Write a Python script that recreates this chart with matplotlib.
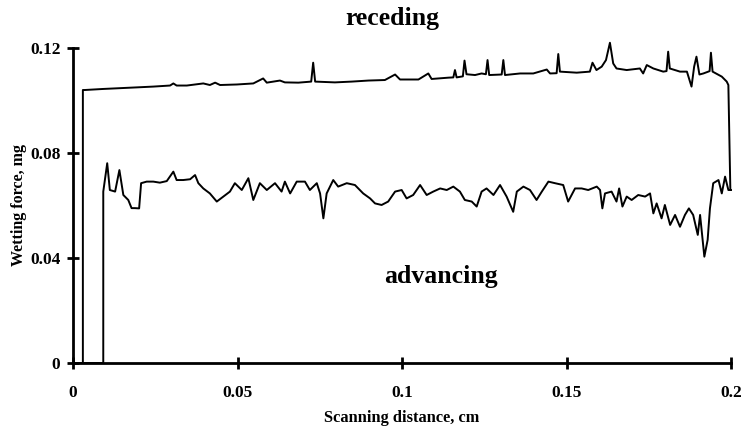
import matplotlib
matplotlib.use("Agg")
import matplotlib.pyplot as plt

# advancing trace
adv_x = [
    0, 0.0092, 0.0092, 0.0104, 0.0112, 0.0128, 0.0141, 0.0153, 0.0168, 0.0178,
    0.0188, 0.0201, 0.0207, 0.0224, 0.0244, 0.0264, 0.0285, 0.0305, 0.0315, 0.0335,
    0.0356, 0.0371, 0.0381, 0.0396, 0.0416, 0.0437, 0.0457, 0.0477, 0.0492, 0.0513,
    0.0533, 0.0548, 0.0568, 0.0589, 0.0614, 0.0634, 0.0644, 0.0660, 0.0680, 0.0705,
    0.0720, 0.0741, 0.0751, 0.0761, 0.0771, 0.0791, 0.0806, 0.0832, 0.0857, 0.0882,
    0.0903, 0.0918, 0.0938, 0.0958, 0.0979, 0.0999, 0.1014, 0.1034, 0.1055, 0.1075,
    0.1095, 0.1116, 0.1136, 0.1156, 0.1176, 0.1191, 0.1212, 0.1227, 0.1242, 0.1257,
    0.1278, 0.1298, 0.1318, 0.1338, 0.1349, 0.1369, 0.1389, 0.1409, 0.1425, 0.1445,
    0.1465, 0.1490, 0.1505, 0.1526, 0.1546, 0.1566, 0.1592, 0.1602, 0.1609, 0.1617,
    0.1637, 0.1652, 0.1660, 0.1670, 0.1683, 0.1698, 0.1718, 0.1739, 0.1754, 0.1764,
    0.1774, 0.1789, 0.1799, 0.1815, 0.1830, 0.1845, 0.1860, 0.1872, 0.1885, 0.1899,
    0.1906, 0.1919, 0.1929, 0.1936, 0.1946, 0.1962, 0.1972, 0.1982, 0.1992, 0.2000,
]
adv_y = [
    0, 0, 0.0653, 0.0761, 0.0659, 0.0653, 0.0735, 0.0640, 0.0621, 0.0590,
    0.0590, 0.0589, 0.0685, 0.0691, 0.0691, 0.0687, 0.0693, 0.0729, 0.0697, 0.0697,
    0.0700, 0.0716, 0.0685, 0.0665, 0.0646, 0.0615, 0.0634, 0.0653, 0.0685, 0.0659,
    0.0704, 0.0621, 0.0685, 0.0659, 0.0685, 0.0653, 0.0691, 0.0646, 0.0691, 0.0691,
    0.0659, 0.0685, 0.0646, 0.0551, 0.0646, 0.0697, 0.0672, 0.0685, 0.0678, 0.0646,
    0.0627, 0.0608, 0.0602, 0.0615, 0.0653, 0.0659, 0.0627, 0.0640, 0.0678, 0.0640,
    0.0653, 0.0665, 0.0659, 0.0672, 0.0653, 0.0621, 0.0615, 0.0596, 0.0653, 0.0665,
    0.0640, 0.0678, 0.0634, 0.0576, 0.0653, 0.0672, 0.0659, 0.0621, 0.0653, 0.0691,
    0.0685, 0.0678, 0.0615, 0.0665, 0.0665, 0.0659, 0.0672, 0.0659, 0.0589, 0.0646,
    0.0653, 0.0615, 0.0665, 0.0596, 0.0634, 0.0621, 0.0640, 0.0634, 0.0646, 0.0570,
    0.0608, 0.0551, 0.0602, 0.0526, 0.0564, 0.0519, 0.0564, 0.0589, 0.0564, 0.0488,
    0.0564, 0.0405, 0.0469, 0.0589, 0.0685, 0.0697, 0.0646, 0.0710, 0.0659, 0.0659,
]

# receding trace
rec_x = [
    0, 0.0030, 0.0030, 0.0036, 0.0092, 0.0143, 0.0194, 0.0244, 0.0295, 0.0305,
    0.0315, 0.0346, 0.0396, 0.0416, 0.0432, 0.0447, 0.0498, 0.0548, 0.0578, 0.0589,
    0.0629, 0.0644, 0.0685, 0.0724, 0.0730, 0.0736, 0.0796, 0.0847, 0.0898, 0.0948,
    0.0979, 0.0994, 0.1050, 0.1080, 0.1090, 0.1141, 0.1156, 0.1161, 0.1166, 0.1185,
    0.1190, 0.1196, 0.1222, 0.1242, 0.1255, 0.1260, 0.1265, 0.1303, 0.1308, 0.1313,
    0.1359, 0.1399, 0.1440, 0.1450, 0.1470, 0.1475, 0.1480, 0.1531, 0.1571, 0.1579,
    0.1591, 0.1607, 0.1620, 0.1632, 0.1642, 0.1652, 0.1683, 0.1723, 0.1733, 0.1744,
    0.1764, 0.1794, 0.1804, 0.1809, 0.1814, 0.1845, 0.1866, 0.1880, 0.1888, 0.1895,
    0.1904, 0.1916, 0.1931, 0.1935, 0.1939, 0.1944, 0.1972, 0.1987, 0.1992, 0.1998,
]
rec_y = [
    0, 0, 0.1040, 0.1040, 0.1044, 0.1047, 0.1050, 0.1053, 0.1057, 0.1065,
    0.1057, 0.1057, 0.1065, 0.1059, 0.1068, 0.1059, 0.1061, 0.1065, 0.1084, 0.1068,
    0.1076, 0.1069, 0.1068, 0.1072, 0.1144, 0.1072, 0.1069, 0.1072, 0.1076, 0.1078,
    0.1099, 0.1080, 0.1080, 0.1103, 0.1082, 0.1087, 0.1088, 0.1116, 0.1088, 0.1092,
    0.1152, 0.1100, 0.1097, 0.1103, 0.1100, 0.1154, 0.1097, 0.1099, 0.1154, 0.1097,
    0.1103, 0.1103, 0.1118, 0.1103, 0.1104, 0.1177, 0.1110, 0.1106, 0.1110, 0.1144,
    0.1116, 0.1129, 0.1154, 0.1220, 0.1141, 0.1122, 0.1116, 0.1122, 0.1103, 0.1135,
    0.1122, 0.1110, 0.1112, 0.1186, 0.1122, 0.1110, 0.1110, 0.1053, 0.1129, 0.1167,
    0.1099, 0.1103, 0.1110, 0.1112, 0.1182, 0.1110, 0.1091, 0.1072, 0.1059, 0.0660,
]

x_ticks = [0, 0.05, 0.1, 0.15, 0.2]
x_tick_labels = ["0", "0.05", "0.1", "0.15", "0.2"]
y_ticks = [0, 0.04, 0.08, 0.12]
y_tick_labels = ["0", "0.04", "0.08", "0.12"]

plt.rcParams["font.family"] = "Liberation Serif"
plt.rcParams["font.weight"] = "bold"

fig = plt.figure(figsize=(7.44, 4.29), dpi=100)
ax = fig.add_axes([73 / 744, 66 / 429, 658 / 744, 315 / 429])

ax.plot(rec_x, rec_y, color="black", linewidth=1.4, clip_on=False)
ax.plot(adv_x, adv_y, color="black", linewidth=1.4, clip_on=False)

ax.set_xlim(0, 0.2)
ax.set_ylim(0, 0.12)
for side in ["top", "right"]:
    ax.spines[side].set_visible(False)
for side in ["left", "bottom"]:
    ax.spines[side].set_linewidth(2.0)

ax.set_xticks(x_ticks)
ax.set_xticklabels(x_tick_labels)
ax.set_yticks(y_ticks)
ax.set_yticklabels(y_tick_labels)
ax.tick_params(axis="both", direction="inout", length=8, width=2, labelsize=12.5)
ax.tick_params(axis="x", pad=12)
ax.tick_params(axis="y", pad=5)

ax.set_xlabel("Scanning distance, cm", fontsize=11.8, fontweight="bold", labelpad=6)
ax.set_ylabel("Wetting force, mg", fontsize=11.5, fontweight="bold", labelpad=2)

fig.text(392 / 744, 1 - 18 / 429, "receding", ha="center", va="center",
         fontsize=18.5, fontweight="bold")
ax.text(0.1119, 0.0331, "advancing", ha="center", va="center",
        fontsize=18.5, fontweight="bold")

fig.savefig("out.png", dpi=100)
